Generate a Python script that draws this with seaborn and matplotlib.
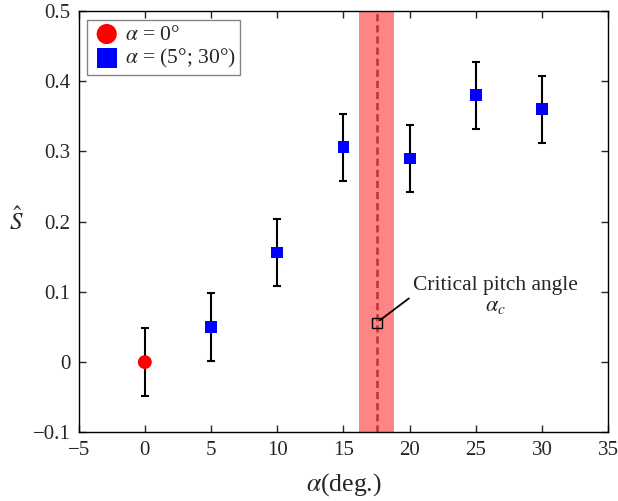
import matplotlib
matplotlib.use("Agg")
import matplotlib.pyplot as plt
import seaborn as sns
import pandas as pd

# Measured normalised quantity vs pitch angle
alpha_deg = [0, 5, 10, 15, 20, 25, 30]
s_hat = [0.0, 0.05, 0.156, 0.306, 0.29, 0.38, 0.36]
s_err = [0.048, 0.048, 0.048, 0.048, 0.048, 0.048, 0.048]
groups = ["$\\alpha$ = 0°"] + ["$\\alpha$ = (5°; 30°)"] * 6

alpha_c = 17.5
alpha_c_band = 1.3
alpha_c_marker_y = 0.056

df = pd.DataFrame({"alpha": alpha_deg, "S": s_hat, "err": s_err, "group": groups})

sns.set_style("white")
plt.rcParams["font.family"] = ["Liberation Serif", "DejaVu Serif"]
plt.rcParams["mathtext.fontset"] = "stix"

fig = plt.figure(figsize=(6.18, 5.01), dpi=100)
ax = fig.add_axes([0.1272, 0.1371, 0.8571, 0.8409])

# critical pitch angle band and centre line
ax.axvspan(alpha_c - alpha_c_band, alpha_c + alpha_c_band, color="#ff8585", lw=0, zorder=0)
ax.axvline(alpha_c, color="#c43a3a", lw=2.0, ls=(0, (2.6, 1.4)), zorder=1)

ax.errorbar(df["alpha"], df["S"], yerr=df["err"], fmt="none", ecolor="black",
            elinewidth=1.5, capsize=2.9, capthick=1.5, zorder=2)

sns.scatterplot(data=df, x="alpha", y="S", hue="group", style="group",
                palette={groups[0]: "#ff0000", groups[1]: "#0000ff"},
                markers={groups[0]: "o", groups[1]: "s"},
                size="group", sizes={groups[0]: 100, groups[1]: 72},
                edgecolor="none", linewidth=0, ax=ax, zorder=3, legend=False)

# legend handles
h1 = ax.scatter([], [], marker="o", s=210, color="#ff0000", edgecolor="none", label=groups[0])
h2 = ax.scatter([], [], marker="s", s=210, color="#0000ff", edgecolor="none", label=groups[1])
leg = ax.legend(handles=[h1, h2], loc="upper left", fontsize=15.5, frameon=True,
                fancybox=False, edgecolor="#666666", borderpad=0.2, handletextpad=0.15,
                labelspacing=0.12, bbox_to_anchor=(0.0165, 0.978), handlelength=1.4,
                borderaxespad=0)
leg.get_frame().set_linewidth(1.0)

ax.plot([alpha_c], [alpha_c_marker_y], marker="s", ms=6.5, mfc="none", mec="black",
        mew=1.0, zorder=4)
ax.annotate("Critical pitch angle", xy=(alpha_c, alpha_c_marker_y),
            xytext=(26.5, 0.1026), ha="center", va="baseline", fontsize=15.5,
            arrowprops=dict(arrowstyle="-", color="black", lw=1.3,
                            relpos=(0.0, 0.0), shrinkA=1, shrinkB=3))
ax.text(26.45, 0.079, "$\\alpha_c$", ha="center", va="center", fontsize=16)

ax.set_xlim(-5, 35)
ax.set_ylim(-0.1, 0.5)
ax.set_xticks(range(-5, 36, 5))
ax.set_yticks([-0.1, 0, 0.1, 0.2, 0.3, 0.4, 0.5])
ax.set_xticklabels(["\u22125", "0", "5", "10", "15", "20", "25", "30", "35"])
ax.set_yticklabels(["\u22120.1", "0", "0.1", "0.2", "0.3", "0.4", "0.5"])
ax.tick_params(direction="in", length=5, width=1, labelsize=15, top=True, right=True,
               bottom=True, left=True)
ax.tick_params(axis="y", pad=5.8)
ax.tick_params(axis="x", pad=6)
for sp in ax.spines.values():
    sp.set_linewidth(1.0)
    sp.set_color("black")

ax.set_xlabel("$\\alpha$(deg.)", fontsize=18.5, labelpad=8)
ax.set_ylabel("$\\hat{S}$", fontsize=18, rotation=0, va="center", ha="center")
ax.yaxis.set_label_coords(-0.118, 0.5)

fig.savefig("out.png", dpi=100)
